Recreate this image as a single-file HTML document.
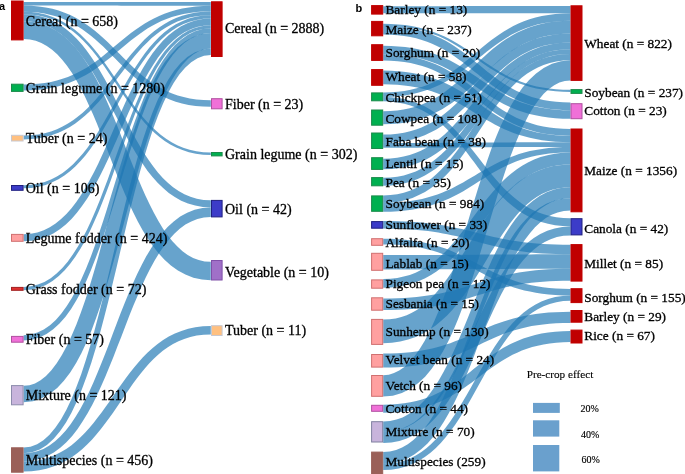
<!DOCTYPE html>
<html><head><meta charset="utf-8"><style>
html,body{margin:0;padding:0;background:#fff;width:685px;height:474px;overflow:hidden}
svg{display:block;will-change:transform}
</style></head><body>
<svg width="685" height="474" viewBox="0 0 685 474">
<g fill="rgba(31,119,180,0.68)" stroke="none">
<path d="M23.6,5.5 31.2,5.5 38.4,5.5 45.2,5.5 51.6,5.5 57.7,5.5 63.5,5.5 69.0,5.5 74.2,5.5 79.2,5.5 83.9,5.6 88.5,5.6 92.9,5.6 97.2,5.6 101.3,5.6 105.4,5.6 109.4,5.6 113.3,5.6 117.2,5.6 121.1,5.7 125.0,5.7 129.0,5.7 133.1,5.7 137.2,5.7 141.5,5.7 145.9,5.7 150.5,5.7 155.2,5.8 160.2,5.8 165.4,5.8 170.9,5.8 176.7,5.8 182.8,5.8 189.2,5.8 196.0,5.8 203.2,5.8 210.8,5.8 210.8,1.9 203.2,1.9 196.0,1.9 189.2,1.9 182.8,1.9 176.7,1.9 170.9,1.9 165.4,1.9 160.2,1.9 155.2,1.9 150.5,1.9 145.9,1.9 141.5,2.0 137.2,2.0 133.1,2.0 129.0,2.0 125.0,2.0 121.1,2.0 117.2,2.0 113.3,2.0 109.4,2.0 105.4,2.0 101.3,2.0 97.2,2.0 92.9,2.0 88.5,2.1 83.9,2.1 79.2,2.1 74.2,2.1 69.0,2.1 63.5,2.1 57.7,2.1 51.6,2.1 45.2,2.1 38.4,2.1 31.2,2.1 23.6,2.1Z"/>
<path d="M23.6,11.8 31.0,12.0 38.0,12.6 44.6,13.6 50.8,15.0 56.7,16.6 62.3,18.6 67.6,20.9 72.7,23.4 77.5,26.2 82.2,29.2 86.6,32.4 90.9,35.7 95.1,39.2 99.2,42.9 103.2,46.6 107.1,50.5 111.0,54.4 114.9,58.3 118.8,62.3 122.8,66.2 126.8,70.2 130.9,74.0 135.1,77.8 139.4,81.4 143.9,85.0 148.6,88.3 153.5,91.5 158.7,94.4 164.1,97.1 169.7,99.5 175.7,101.7 182.0,103.4 188.6,104.9 195.6,105.9 203.0,106.6 210.8,106.8 210.8,100.2 203.4,100.0 196.4,99.4 189.8,98.4 183.6,97.1 177.7,95.4 172.1,93.4 166.8,91.2 161.8,88.6 156.9,85.9 152.3,82.9 147.8,79.7 143.5,76.4 139.3,72.9 135.3,69.2 131.3,65.5 127.3,61.6 123.4,57.7 119.5,53.8 115.6,49.9 111.6,45.9 107.6,42.0 103.5,38.2 99.3,34.4 94.9,30.8 90.4,27.3 85.7,23.9 80.8,20.8 75.7,17.8 70.3,15.1 64.6,12.7 58.6,10.6 52.4,8.8 45.7,7.4 38.7,6.4 31.4,5.7 23.6,5.5Z"/>
<path d="M23.6,14.2 31.1,14.5 38.2,15.4 44.8,16.9 51.2,19.0 57.2,21.5 62.9,24.5 68.3,27.9 73.4,31.7 78.4,35.9 83.1,40.4 87.6,45.2 92.0,50.3 96.2,55.6 100.4,61.0 104.4,66.6 108.4,72.4 112.3,78.2 116.2,84.1 120.1,89.9 124.0,95.7 128.0,101.5 132.1,107.2 136.2,112.7 140.5,118.1 145.0,123.2 149.6,128.1 154.4,132.7 159.4,137.0 164.7,140.9 170.3,144.4 176.2,147.5 182.4,150.1 188.9,152.2 195.8,153.7 203.1,154.7 210.8,155.0 210.8,152.5 203.3,152.2 196.3,151.3 189.6,149.8 183.2,147.8 177.2,145.2 171.6,142.2 166.1,138.8 161.0,135.0 156.1,130.8 151.3,126.3 146.8,121.5 142.4,116.5 138.2,111.2 134.1,105.7 130.0,100.1 126.0,94.4 122.1,88.6 118.2,82.7 114.3,76.8 110.4,71.0 106.4,65.2 102.3,59.6 98.2,54.1 93.9,48.7 89.4,43.6 84.8,38.7 80.0,34.1 74.9,29.8 69.6,25.9 64.1,22.4 58.2,19.3 52.0,16.7 45.5,14.6 38.6,13.1 31.3,12.1 23.6,11.8Z"/>
<path d="M23.6,21.2 30.8,21.6 37.6,22.8 44.0,24.7 50.1,27.2 55.8,30.4 61.3,34.3 66.6,38.7 71.6,43.6 76.5,49.0 81.1,54.9 85.6,61.2 90.0,67.8 94.2,74.8 98.3,82.0 102.3,89.4 106.2,96.9 110.2,104.6 114.1,112.4 118.0,120.1 121.9,127.8 125.9,135.5 130.0,143.0 134.2,150.3 138.5,157.5 143.0,164.3 147.6,170.9 152.5,177.0 157.6,182.8 163.1,188.1 168.8,192.9 174.8,197.1 181.2,200.7 188.0,203.5 195.2,205.6 202.8,207.0 210.8,207.4 210.8,200.3 203.6,199.9 196.8,198.7 190.4,196.8 184.4,194.3 178.6,191.1 173.1,187.2 167.8,182.8 162.8,177.9 157.9,172.5 153.3,166.6 148.8,160.3 144.5,153.7 140.3,146.8 136.1,139.6 132.1,132.2 128.2,124.6 124.3,116.9 120.3,109.2 116.4,101.4 112.5,93.7 108.5,86.1 104.4,78.6 100.2,71.2 95.9,64.1 91.4,57.2 86.8,50.7 81.9,44.5 76.7,38.8 71.3,33.5 65.6,28.7 59.5,24.5 53.1,20.9 46.3,18.1 39.2,16.0 31.6,14.6 23.6,14.2Z"/>
<path d="M23.6,39.0 29.9,39.5 35.8,40.8 41.4,42.9 46.8,45.9 52.1,49.7 57.2,54.3 62.2,59.7 67.0,65.8 71.7,72.6 76.2,80.0 80.6,88.0 84.9,96.5 89.0,105.4 93.1,114.6 97.1,124.1 101.0,133.9 104.9,143.8 108.8,153.8 112.7,163.9 116.6,173.9 120.6,183.8 124.7,193.6 128.9,203.2 133.3,212.5 137.8,221.5 142.5,230.1 147.5,238.3 152.8,246.0 158.5,253.2 164.5,259.7 170.9,265.5 177.9,270.5 185.4,274.6 193.4,277.7 201.9,279.6 210.8,280.2 210.8,261.8 204.6,261.4 198.7,260.0 193.1,257.9 187.7,255.0 182.5,251.2 177.4,246.6 172.4,241.3 167.6,235.2 162.9,228.4 158.4,221.0 154.0,213.0 149.7,204.6 145.5,195.7 141.4,186.5 137.4,176.9 133.5,167.2 129.5,157.3 125.6,147.3 121.7,137.2 117.8,127.2 113.7,117.3 109.6,107.5 105.4,97.9 101.0,88.6 96.5,79.6 91.7,71.0 86.7,62.9 81.4,55.2 75.8,48.1 69.7,41.6 63.3,35.8 56.4,30.8 48.9,26.8 40.9,23.7 32.5,21.8 23.6,21.2Z"/>
<path d="M23.6,90.5 31.3,90.3 38.7,89.8 45.6,88.9 52.2,87.7 58.5,86.2 64.4,84.5 70.0,82.5 75.4,80.3 80.5,77.8 85.4,75.2 90.1,72.4 94.6,69.5 98.9,66.4 103.1,63.3 107.2,60.1 111.2,56.9 115.2,53.6 119.1,50.3 123.0,47.0 126.9,43.7 130.8,40.5 134.8,37.4 138.9,34.4 143.1,31.4 147.4,28.6 151.8,26.0 156.5,23.5 161.4,21.1 166.5,19.0 171.8,17.1 177.4,15.5 183.4,14.1 189.7,12.9 196.3,12.1 203.3,11.6 210.8,11.4 210.8,5.8 203.1,6.0 195.8,6.5 188.8,7.4 182.2,8.6 176.0,10.0 170.1,11.8 164.4,13.8 159.1,16.0 153.9,18.4 149.1,21.0 144.4,23.8 139.9,26.7 135.5,29.7 131.3,32.8 127.2,36.0 123.2,39.3 119.2,42.5 115.3,45.8 111.4,49.1 107.5,52.3 103.6,55.5 99.6,58.7 95.5,61.7 91.3,64.6 87.0,67.4 82.5,70.0 77.8,72.5 73.0,74.8 67.9,76.9 62.5,78.8 56.9,80.5 51.0,81.9 44.7,83.0 38.1,83.8 31.0,84.3 23.6,84.5Z"/>
<path d="M23.6,139.4 31.3,139.1 38.7,138.3 45.6,136.9 52.2,135.0 58.4,132.7 64.3,130.0 69.9,126.9 75.3,123.4 80.4,119.6 85.2,115.5 89.9,111.2 94.3,106.6 98.6,101.9 102.8,97.0 106.9,92.0 110.9,86.9 114.8,81.7 118.7,76.5 122.6,71.4 126.5,66.3 130.5,61.2 134.5,56.3 138.6,51.4 142.8,46.8 147.2,42.4 151.7,38.1 156.4,34.2 161.3,30.5 166.4,27.2 171.8,24.2 177.4,21.6 183.4,19.4 189.7,17.6 196.3,16.3 203.4,15.5 210.8,15.2 210.8,11.4 203.1,11.7 195.7,12.5 188.8,13.9 182.2,15.8 176.0,18.1 170.1,20.8 164.5,23.9 159.1,27.4 154.0,31.2 149.2,35.3 144.5,39.6 140.1,44.2 135.8,48.9 131.6,53.8 127.5,58.8 123.5,63.9 119.6,69.1 115.7,74.3 111.8,79.4 107.9,84.5 103.9,89.6 99.9,94.5 95.8,99.4 91.6,104.0 87.2,108.4 82.7,112.7 78.0,116.6 73.1,120.3 68.0,123.6 62.6,126.6 57.0,129.2 51.0,131.4 44.7,133.2 38.1,134.5 31.0,135.3 23.6,135.6Z"/>
<path d="M23.6,188.3 31.3,187.9 38.7,186.8 45.6,184.9 52.2,182.3 58.5,179.2 64.4,175.4 70.0,171.2 75.3,166.4 80.3,161.2 85.2,155.7 89.8,149.8 94.2,143.6 98.5,137.1 102.7,130.4 106.7,123.6 110.7,116.7 114.7,109.6 118.6,102.5 122.5,95.5 126.4,88.4 130.4,81.5 134.4,74.7 138.5,68.1 142.8,61.8 147.1,55.7 151.7,49.9 156.4,44.4 161.3,39.4 166.5,34.8 171.8,30.7 177.5,27.1 183.5,24.1 189.7,21.7 196.4,19.9 203.4,18.8 210.8,18.4 210.8,15.2 203.0,15.6 195.7,16.8 188.7,18.6 182.2,21.2 175.9,24.3 170.0,28.1 164.4,32.3 159.1,37.1 154.1,42.3 149.2,47.8 144.6,53.8 140.2,60.0 135.9,66.4 131.7,73.1 127.6,79.9 123.7,86.9 119.7,93.9 115.8,101.0 111.9,108.1 108.0,115.1 104.0,122.0 100.0,128.8 95.9,135.4 91.6,141.8 87.3,147.9 82.7,153.7 78.0,159.1 73.1,164.2 68.0,168.8 62.6,172.9 56.9,176.5 51.0,179.5 44.7,181.9 38.0,183.7 31.0,184.8 23.6,185.2Z"/>
<path d="M23.6,241.3 31.7,240.8 39.3,239.3 46.5,236.8 53.3,233.4 59.8,229.3 65.8,224.4 71.5,218.9 76.9,212.7 82.0,206.1 86.9,198.9 91.6,191.4 96.0,183.5 100.3,175.2 104.5,166.7 108.6,158.0 112.6,149.1 116.5,140.2 120.4,131.2 124.3,122.2 128.2,113.3 132.2,104.5 136.2,95.9 140.3,87.5 144.5,79.5 148.9,71.8 153.4,64.5 158.0,57.6 162.9,51.3 167.9,45.5 173.2,40.4 178.7,36.0 184.5,32.3 190.6,29.3 196.9,27.1 203.7,25.8 210.8,25.3 210.8,18.4 202.8,18.9 195.1,20.4 187.9,22.9 181.1,26.3 174.7,30.4 168.6,35.3 162.9,40.8 157.5,46.9 152.4,53.6 147.5,60.7 142.9,68.2 138.4,76.2 134.1,84.4 129.9,92.9 125.8,101.6 121.8,110.5 117.9,119.4 114.0,128.4 110.1,137.4 106.2,146.3 102.2,155.1 98.2,163.7 94.1,172.0 89.8,180.1 85.5,187.8 81.0,195.1 76.3,201.9 71.5,208.3 66.4,214.0 61.1,219.1 55.6,223.5 49.8,227.3 43.8,230.2 37.4,232.4 30.7,233.7 23.6,234.2Z"/>
<path d="M23.6,290.2 31.4,289.6 38.9,287.8 45.9,284.9 52.5,280.9 58.8,276.0 64.7,270.3 70.2,263.7 75.5,256.4 80.6,248.5 85.4,239.9 90.0,230.9 94.4,221.3 98.7,211.4 102.8,201.2 106.9,190.7 110.9,179.9 114.8,169.1 118.7,158.2 122.6,147.3 126.5,136.5 130.5,125.8 134.5,115.3 138.6,105.1 142.9,95.3 147.3,85.8 151.8,76.9 156.5,68.5 161.5,60.7 166.6,53.6 172.0,47.2 177.7,41.7 183.7,37.0 189.9,33.3 196.5,30.6 203.4,28.9 210.8,28.3 210.8,25.3 203.0,25.9 195.6,27.7 188.6,30.6 182.0,34.5 175.7,39.4 169.8,45.2 164.2,51.7 159.0,59.0 153.9,66.9 149.1,75.5 144.5,84.5 140.1,94.0 135.8,104.0 131.6,114.2 127.6,124.7 123.6,135.4 119.6,146.2 115.7,157.1 111.8,168.0 107.9,178.9 103.9,189.5 99.9,200.0 95.7,210.2 91.5,220.0 87.1,229.5 82.5,238.4 77.8,246.8 72.8,254.6 67.7,261.7 62.3,268.0 56.6,273.6 50.7,278.2 44.4,281.9 37.9,284.6 30.9,286.3 23.6,286.9Z"/>
<path d="M23.6,340.4 31.7,339.7 39.3,337.5 46.5,334.0 53.2,329.3 59.5,323.5 65.5,316.7 71.1,308.9 76.4,300.3 81.5,291.0 86.3,280.9 90.9,270.3 95.3,259.1 99.6,247.4 103.7,235.4 107.8,223.1 111.8,210.5 115.7,197.8 119.6,185.0 123.5,172.2 127.4,159.5 131.4,147.0 135.4,134.7 139.5,122.7 143.8,111.2 148.1,100.1 152.7,89.6 157.4,79.8 162.3,70.7 167.5,62.4 172.8,54.9 178.4,48.5 184.3,43.1 190.5,38.8 196.9,35.7 203.7,33.8 210.8,33.1 210.8,28.3 202.8,29.0 195.2,31.2 188.0,34.7 181.3,39.4 175.0,45.1 169.0,51.9 163.4,59.7 158.1,68.2 153.1,77.6 148.2,87.6 143.6,98.3 139.2,109.4 134.9,121.1 130.7,133.1 126.7,145.5 122.7,158.0 118.7,170.7 114.8,183.5 110.9,196.3 107.0,209.0 103.0,221.5 98.9,233.8 94.8,245.7 90.6,257.3 86.2,268.3 81.6,278.8 76.9,288.7 72.0,297.8 66.8,306.0 61.4,313.4 55.8,319.9 50.0,325.3 43.8,329.5 37.4,332.6 30.7,334.5 23.6,335.2Z"/>
<path d="M23.6,402.2 32.9,401.2 41.7,398.3 49.8,393.8 57.2,387.9 63.9,380.7 70.2,372.5 76.0,363.2 81.5,353.1 86.6,342.1 91.5,330.4 96.1,318.0 100.6,305.0 104.9,291.5 109.1,277.6 113.1,263.3 117.1,248.8 121.0,234.2 124.9,219.5 128.8,204.8 132.7,190.2 136.6,175.8 140.6,161.8 144.7,148.1 148.9,134.9 153.3,122.3 157.7,110.3 162.4,99.2 167.2,88.9 172.2,79.6 177.3,71.4 182.7,64.4 188.1,58.7 193.6,54.2 199.2,51.1 204.8,49.2 210.8,48.6 210.8,33.1 201.6,34.1 192.9,36.9 184.9,41.4 177.5,47.3 170.8,54.4 164.5,62.6 158.7,71.8 153.2,81.9 148.1,92.9 143.2,104.6 138.5,117.0 134.0,129.9 129.7,143.4 125.5,157.3 121.4,171.6 117.4,186.0 113.4,200.7 109.5,215.4 105.6,230.1 101.6,244.6 97.7,259.0 93.6,273.1 89.5,286.7 85.3,299.9 80.9,312.5 76.4,324.4 71.7,335.5 66.9,345.8 61.9,355.0 56.7,363.2 51.4,370.2 46.0,375.9 40.6,380.3 35.0,383.4 29.5,385.2 23.6,385.8Z"/>
<path d="M23.6,453.3 31.9,452.3 39.7,449.4 46.9,444.9 53.7,438.7 60.0,431.2 66.0,422.4 71.6,412.4 76.9,401.3 81.9,389.2 86.7,376.2 91.4,362.4 95.8,347.9 100.1,332.8 104.2,317.2 108.3,301.2 112.3,284.9 116.3,268.4 120.2,251.8 124.1,235.2 128.0,218.7 132.0,202.5 136.1,186.5 140.2,171.0 144.5,156.0 148.9,141.7 153.4,128.0 158.2,115.2 163.1,103.4 168.3,92.6 173.6,83.0 179.3,74.6 185.1,67.7 191.2,62.2 197.5,58.2 204.0,55.8 210.8,55.0 210.8,48.6 202.5,49.6 194.6,52.5 187.3,57.1 180.5,63.3 174.2,70.8 168.2,79.7 162.6,89.7 157.3,100.8 152.3,112.9 147.5,125.9 142.9,139.8 138.5,154.3 134.2,169.4 130.1,185.0 126.0,201.0 122.0,217.3 118.1,233.8 114.2,250.4 110.3,267.0 106.4,283.5 102.5,299.7 98.4,315.7 94.3,331.2 90.1,346.2 85.7,360.6 81.2,374.2 76.4,387.0 71.5,398.9 66.4,409.7 61.0,419.4 55.3,427.7 49.5,434.7 43.4,440.3 37.1,444.2 30.5,446.7 23.6,447.5Z"/>
<path d="M23.6,461.5 31.8,460.9 39.6,459.1 46.9,456.3 53.8,452.5 60.3,447.7 66.4,442.2 72.2,435.9 77.6,428.9 82.7,421.3 87.6,413.2 92.3,404.7 96.8,395.7 101.1,386.3 105.3,376.7 109.4,366.8 113.5,356.7 117.4,346.6 121.4,336.4 125.3,326.2 129.2,316.1 133.2,306.1 137.3,296.4 141.4,286.9 145.6,277.8 150.0,269.0 154.5,260.8 159.2,253.0 164.0,245.9 169.1,239.4 174.3,233.7 179.7,228.8 185.4,224.6 191.3,221.4 197.4,219.0 203.9,217.5 210.8,217.0 210.8,207.4 202.5,208.0 194.6,209.8 187.2,212.7 180.2,216.6 173.7,221.4 167.6,227.0 161.8,233.4 156.4,240.4 151.3,248.0 146.4,256.1 141.8,264.8 137.3,273.8 133.0,283.2 128.9,292.8 124.8,302.7 120.8,312.8 116.9,323.0 113.0,333.2 109.2,343.4 105.3,353.5 101.3,363.5 97.3,373.3 93.3,382.8 89.1,392.0 84.7,400.8 80.3,409.1 75.6,416.8 70.8,424.0 65.8,430.5 60.5,436.3 55.1,441.3 49.4,445.5 43.4,448.9 37.2,451.3 30.6,452.8 23.6,453.3Z"/>
<path d="M23.6,471.6 31.6,471.3 39.2,470.3 46.4,468.7 53.3,466.6 59.8,463.9 65.9,460.8 71.7,457.2 77.2,453.3 82.4,448.9 87.4,444.3 92.1,439.5 96.6,434.3 100.9,429.1 105.1,423.6 109.2,418.0 113.2,412.4 117.1,406.7 121.0,401.0 124.9,395.3 128.8,389.7 132.7,384.1 136.6,378.7 140.7,373.5 144.8,368.4 149.1,363.6 153.5,359.0 158.1,354.8 162.8,350.8 167.8,347.2 173.0,344.0 178.5,341.2 184.2,338.9 190.3,337.0 196.7,335.6 203.6,334.7 210.8,334.4 210.8,326.0 202.9,326.3 195.3,327.3 188.2,328.8 181.4,330.9 174.9,333.5 168.8,336.6 163.1,340.1 157.6,344.0 152.4,348.2 147.4,352.8 142.7,357.6 138.1,362.7 133.7,367.9 129.5,373.3 125.4,378.8 121.3,384.4 117.3,390.1 113.4,395.8 109.5,401.4 105.5,407.0 101.6,412.5 97.5,417.8 93.5,423.1 89.3,428.1 85.0,432.8 80.5,437.3 75.9,441.5 71.2,445.4 66.2,449.0 61.0,452.1 55.6,454.8 49.9,457.1 43.9,459.0 37.5,460.4 30.8,461.2 23.6,461.5Z"/>
<path d="M383.2,13.3 390.8,13.3 398.0,13.3 404.8,13.3 411.2,13.3 417.3,13.3 423.1,13.3 428.6,13.3 433.8,13.3 438.8,13.3 443.6,13.3 448.2,13.3 452.6,13.3 456.8,13.3 461.0,13.3 465.0,13.3 469.0,13.3 472.9,13.3 476.9,13.3 480.8,13.3 484.7,13.3 488.7,13.3 492.7,13.3 496.9,13.3 501.1,13.3 505.5,13.3 510.1,13.3 514.9,13.3 519.9,13.3 525.1,13.3 530.6,13.3 536.4,13.3 542.5,13.3 548.9,13.3 555.7,13.3 562.9,13.3 570.5,13.3 570.5,6.0 562.9,6.0 555.7,6.0 548.9,6.0 542.5,6.0 536.4,6.0 530.6,6.0 525.1,6.0 519.9,6.0 514.9,6.0 510.1,6.0 505.5,6.0 501.1,6.1 496.9,6.1 492.7,6.1 488.7,6.1 484.7,6.1 480.8,6.1 476.8,6.1 472.9,6.1 469.0,6.1 465.0,6.1 461.0,6.1 456.8,6.1 452.6,6.1 448.2,6.2 443.6,6.2 438.8,6.2 433.8,6.2 428.6,6.2 423.1,6.2 417.3,6.2 411.2,6.2 404.8,6.2 398.0,6.2 390.8,6.2 383.2,6.2Z"/>
<path d="M383.2,25.9 390.7,26.0 397.9,26.5 404.6,27.2 411.0,28.1 417.1,29.3 422.8,30.8 428.3,32.4 433.4,34.2 438.4,36.1 443.1,38.2 447.7,40.5 452.1,42.9 456.3,45.4 460.4,47.9 464.5,50.6 468.4,53.2 472.3,56.0 476.2,58.7 480.2,61.5 484.1,64.2 488.1,66.9 492.2,69.6 496.3,72.1 500.6,74.7 505.1,77.1 509.7,79.4 514.5,81.5 519.5,83.5 524.8,85.3 530.3,87.0 536.2,88.4 542.3,89.6 548.8,90.6 555.6,91.3 562.9,91.7 570.5,91.9 570.5,89.8 563.0,89.7 555.8,89.2 549.1,88.5 542.7,87.6 536.6,86.4 530.9,84.9 525.4,83.3 520.3,81.5 515.3,79.6 510.6,77.5 506.0,75.2 501.6,72.8 497.4,70.3 493.3,67.8 489.2,65.1 485.3,62.5 481.4,59.7 477.5,57.0 473.5,54.2 469.6,51.5 465.6,48.8 461.5,46.1 457.4,43.6 453.1,41.0 448.6,38.6 444.0,36.3 439.2,34.2 434.2,32.2 428.9,30.4 423.4,28.7 417.5,27.3 411.4,26.1 404.9,25.1 398.1,24.4 390.8,24.0 383.2,23.8Z"/>
<path d="M383.2,34.5 390.6,34.7 397.6,35.2 404.1,35.9 410.4,37.0 416.2,38.3 421.8,39.9 427.1,41.7 432.1,43.7 436.9,45.9 441.6,48.3 446.0,50.8 450.3,53.5 454.4,56.3 458.5,59.2 462.5,62.1 466.4,65.2 470.3,68.3 474.2,71.5 478.2,74.6 482.1,77.8 486.2,80.9 490.3,84.0 494.5,87.1 498.9,90.0 503.5,92.8 508.2,95.5 513.1,98.1 518.3,100.4 523.7,102.6 529.4,104.5 535.4,106.2 541.7,107.6 548.4,108.8 555.4,109.6 562.7,110.1 570.5,110.3 570.5,102.4 563.1,102.2 556.1,101.7 549.5,100.9 543.3,99.9 537.4,98.5 531.8,96.9 526.5,95.1 521.5,93.1 516.7,90.9 512.0,88.5 507.6,85.9 503.3,83.2 499.2,80.4 495.1,77.5 491.2,74.5 487.2,71.4 483.3,68.2 479.5,65.1 475.5,61.9 471.6,58.7 467.6,55.5 463.5,52.4 459.2,49.4 454.9,46.4 450.3,43.6 445.6,40.8 440.7,38.3 435.5,35.9 430.1,33.7 424.4,31.8 418.4,30.1 412.0,28.6 405.4,27.5 398.4,26.6 391.0,26.1 383.2,25.9Z"/>
<path d="M383.2,54.3 390.6,54.4 397.6,54.9 404.2,55.5 410.5,56.5 416.4,57.6 422.0,58.9 427.3,60.5 432.4,62.2 437.2,64.1 441.8,66.1 446.2,68.2 450.5,70.5 454.7,72.9 458.7,75.3 462.7,77.9 466.6,80.5 470.5,83.1 474.4,85.8 478.4,88.5 482.3,91.2 486.3,93.8 490.5,96.5 494.7,99.1 499.1,101.6 503.6,104.0 508.3,106.2 513.3,108.4 518.4,110.4 523.8,112.2 529.5,113.9 535.5,115.3 541.8,116.5 548.4,117.5 555.4,118.2 562.7,118.7 570.5,118.8 570.5,110.3 563.1,110.2 556.1,109.7 549.5,109.1 543.2,108.1 537.3,107.0 531.7,105.7 526.4,104.1 521.3,102.4 516.5,100.5 511.9,98.5 507.5,96.4 503.2,94.1 499.0,91.7 495.0,89.3 491.0,86.7 487.1,84.1 483.2,81.5 479.3,78.8 475.3,76.1 471.4,73.4 467.4,70.8 463.2,68.1 459.0,65.5 454.6,63.0 450.1,60.6 445.4,58.4 440.4,56.2 435.3,54.2 429.9,52.4 424.2,50.7 418.2,49.3 411.9,48.1 405.3,47.1 398.3,46.4 391.0,45.9 383.2,45.8Z"/>
<path d="M383.2,60.6 390.6,60.8 397.7,61.3 404.3,62.0 410.6,63.1 416.5,64.5 422.2,66.0 427.5,67.8 432.6,69.8 437.4,72.0 442.1,74.4 446.5,76.9 450.8,79.6 455.0,82.4 459.1,85.3 463.1,88.2 467.0,91.3 470.9,94.4 474.8,97.5 478.7,100.6 482.7,103.7 486.7,106.8 490.8,109.9 495.0,112.9 499.3,115.8 503.8,118.6 508.5,121.2 513.4,123.7 518.6,126.0 524.0,128.2 529.6,130.1 535.6,131.7 541.8,133.2 548.4,134.3 555.4,135.1 562.8,135.6 570.5,135.8 570.5,129.0 563.1,128.8 556.0,128.3 549.4,127.6 543.2,126.5 537.2,125.2 531.6,123.6 526.3,121.8 521.2,119.8 516.4,117.7 511.7,115.3 507.2,112.8 502.9,110.2 498.7,107.4 494.7,104.5 490.7,101.6 486.7,98.5 482.8,95.5 478.9,92.4 475.0,89.3 471.0,86.1 467.0,83.1 462.9,80.0 458.7,77.1 454.3,74.2 449.8,71.4 445.1,68.8 440.2,66.3 435.1,64.0 429.7,61.9 424.0,60.0 418.1,58.3 411.8,56.9 405.2,55.8 398.3,55.0 390.9,54.5 383.2,54.3Z"/>
<path d="M383.2,84.3 390.5,84.4 397.4,84.8 404.0,85.4 410.1,86.2 416.0,87.2 421.5,88.4 426.7,89.7 431.7,91.3 436.5,92.9 441.1,94.7 445.5,96.6 449.8,98.6 454.0,100.8 458.1,103.0 462.1,105.3 466.1,107.6 470.1,110.0 474.1,112.4 478.1,114.9 482.1,117.3 486.3,119.7 490.5,122.1 494.8,124.5 499.2,126.7 503.8,128.9 508.6,130.9 513.5,132.9 518.7,134.7 524.1,136.3 529.8,137.8 535.7,139.1 542.0,140.2 548.5,141.0 555.5,141.7 562.8,142.1 570.5,142.2 570.5,135.8 563.0,135.7 556.0,135.2 549.3,134.5 543.0,133.6 537.1,132.4 531.5,131.1 526.1,129.5 521.1,127.8 516.3,125.9 511.7,123.8 507.3,121.7 503.1,119.4 499.0,117.0 495.0,114.5 491.1,112.0 487.2,109.4 483.4,106.7 479.6,104.0 475.8,101.3 471.9,98.6 467.9,96.0 463.9,93.3 459.7,90.7 455.3,88.2 450.8,85.7 446.1,83.4 441.1,81.2 435.9,79.2 430.4,77.3 424.7,75.6 418.7,74.2 412.3,72.9 405.6,71.9 398.5,71.2 391.0,70.8 383.2,70.6Z"/>
<path d="M383.2,96.9 390.9,96.7 398.2,96.2 405.1,95.4 411.7,94.2 417.9,92.8 423.8,91.1 429.4,89.2 434.8,87.1 439.9,84.7 444.8,82.2 449.5,79.5 454.0,76.7 458.4,73.8 462.6,70.7 466.8,67.6 470.8,64.5 474.8,61.3 478.7,58.1 482.7,54.9 486.6,51.8 490.6,48.7 494.6,45.7 498.8,42.7 503.0,39.9 507.3,37.2 511.8,34.6 516.4,32.2 521.3,30.0 526.4,28.0 531.7,26.2 537.3,24.6 543.2,23.2 549.5,22.2 556.1,21.4 563.1,20.9 570.5,20.7 570.5,13.3 562.7,13.5 555.4,14.0 548.4,14.9 541.8,16.1 535.5,17.6 529.5,19.3 523.9,21.3 518.5,23.6 513.3,26.0 508.5,28.7 503.8,31.4 499.3,34.4 495.0,37.4 490.8,40.5 486.7,43.7 482.7,47.0 478.8,50.3 475.0,53.5 471.1,56.8 467.2,60.0 463.3,63.2 459.3,66.4 455.3,69.4 451.1,72.3 446.8,75.1 442.4,77.8 437.7,80.3 432.8,82.6 427.7,84.7 422.4,86.7 416.7,88.3 410.7,89.7 404.4,90.9 397.8,91.7 390.7,92.2 383.2,92.4Z"/>
<path d="M383.2,101.3 390.6,101.6 397.6,102.4 404.3,103.7 410.5,105.5 416.4,107.7 422.0,110.3 427.4,113.3 432.4,116.7 437.3,120.3 441.9,124.3 446.3,128.5 450.6,132.9 454.8,137.5 458.8,142.3 462.8,147.3 466.7,152.3 470.5,157.4 474.4,162.6 478.2,167.8 482.1,173.0 486.0,178.1 490.1,183.1 494.2,188.1 498.5,192.9 503.0,197.5 507.7,201.9 512.6,206.0 517.7,209.9 523.1,213.5 528.8,216.7 534.9,219.5 541.3,221.9 548.0,223.8 555.1,225.2 562.6,226.1 570.5,226.4 570.5,218.3 563.2,218.0 556.3,217.3 549.9,216.0 543.7,214.3 537.9,212.2 532.4,209.7 527.1,206.9 522.1,203.7 517.2,200.1 512.6,196.3 508.1,192.3 503.7,187.9 499.5,183.4 495.3,178.7 491.3,173.9 487.3,168.9 483.3,163.9 479.3,158.8 475.4,153.7 471.4,148.7 467.3,143.6 463.1,138.7 458.9,133.9 454.5,129.2 450.0,124.7 445.3,120.4 440.3,116.4 435.2,112.7 429.8,109.2 424.1,106.1 418.2,103.4 411.9,101.2 405.3,99.3 398.3,98.0 391.0,97.2 383.2,96.9Z"/>
<path d="M383.2,124.3 391.2,124.1 398.7,123.4 405.9,122.4 412.7,121.0 419.2,119.3 425.4,117.2 431.2,114.8 436.8,112.1 442.1,109.2 447.1,106.1 451.9,102.9 456.6,99.4 461.0,95.9 465.3,92.2 469.4,88.5 473.5,84.7 477.5,80.9 481.4,77.1 485.3,73.4 489.1,69.7 493.0,66.0 497.0,62.5 501.0,59.0 505.1,55.8 509.3,52.6 513.6,49.7 518.1,46.9 522.8,44.3 527.7,42.0 532.9,39.9 538.3,38.1 544.0,36.5 550.0,35.3 556.5,34.4 563.3,33.8 570.5,33.6 570.5,20.7 562.6,20.9 555.0,21.5 547.8,22.6 541.0,24.0 534.5,25.7 528.4,27.8 522.5,30.2 516.9,32.8 511.6,35.7 506.6,38.8 501.8,42.1 497.2,45.5 492.7,49.1 488.4,52.7 484.3,56.4 480.2,60.2 476.3,64.0 472.3,67.8 468.4,71.5 464.5,75.2 460.6,78.9 456.7,82.4 452.7,85.8 448.6,89.1 444.4,92.2 440.0,95.2 435.5,97.9 430.8,100.5 425.9,102.8 420.8,104.9 415.4,106.7 409.7,108.3 403.6,109.5 397.2,110.4 390.4,111.0 383.2,111.2Z"/>
<path d="M383.2,143.0 391.0,142.8 398.5,142.1 405.6,140.9 412.3,139.4 418.7,137.5 424.7,135.2 430.4,132.6 435.9,129.8 441.1,126.6 446.1,123.2 450.8,119.7 455.4,115.9 459.7,112.0 464.0,108.0 468.1,103.9 472.1,99.8 476.1,95.6 480.0,91.4 483.9,87.2 487.8,83.1 491.8,79.0 495.8,75.0 499.8,71.2 504.0,67.5 508.3,64.0 512.7,60.6 517.3,57.5 522.1,54.6 527.1,52.0 532.3,49.6 537.8,47.5 543.6,45.8 549.8,44.4 556.3,43.4 563.2,42.7 570.5,42.5 570.5,33.6 562.6,33.8 555.2,34.5 548.1,35.7 541.4,37.2 535.0,39.1 528.9,41.4 523.2,44.0 517.7,46.9 512.5,50.1 507.5,53.5 502.8,57.1 498.3,60.8 493.9,64.8 489.7,68.8 485.6,72.9 481.5,77.1 477.6,81.3 473.7,85.5 469.8,89.7 465.9,93.8 462.0,97.9 458.0,101.9 453.9,105.7 449.8,109.4 445.5,113.0 441.1,116.4 436.5,119.5 431.7,122.4 426.7,125.1 421.5,127.4 416.0,129.5 410.1,131.3 404.0,132.7 397.4,133.7 390.5,134.4 383.2,134.6Z"/>
<path d="M383.2,147.7 390.8,147.7 398.0,147.7 404.8,147.7 411.2,147.7 417.3,147.7 423.1,147.6 428.6,147.6 433.8,147.6 438.8,147.6 443.6,147.5 448.2,147.5 452.6,147.5 456.9,147.5 461.0,147.4 465.1,147.4 469.0,147.4 473.0,147.3 476.9,147.3 480.8,147.3 484.7,147.2 488.7,147.2 492.7,147.2 496.9,147.1 501.1,147.1 505.6,147.1 510.1,147.1 514.9,147.0 519.9,147.0 525.1,147.0 530.6,147.0 536.4,146.9 542.5,146.9 548.9,146.9 555.7,146.9 562.9,146.9 570.5,146.9 570.5,142.2 562.9,142.2 555.7,142.2 548.9,142.2 542.5,142.2 536.4,142.2 530.6,142.3 525.1,142.3 519.9,142.3 514.9,142.3 510.1,142.4 505.5,142.4 501.1,142.4 496.8,142.4 492.7,142.5 488.6,142.5 484.7,142.5 480.7,142.6 476.8,142.6 472.9,142.6 469.0,142.7 465.0,142.7 461.0,142.7 456.8,142.8 452.6,142.8 448.1,142.8 443.6,142.8 438.8,142.9 433.8,142.9 428.6,142.9 423.1,142.9 417.3,143.0 411.2,143.0 404.8,143.0 398.0,143.0 390.8,143.0 383.2,143.0Z"/>
<path d="M383.2,169.3 391.2,169.0 398.7,168.2 405.9,166.8 412.7,164.9 419.2,162.6 425.3,159.9 431.1,156.8 436.6,153.3 441.8,149.5 446.7,145.5 451.4,141.2 456.0,136.8 460.3,132.1 464.5,127.4 468.5,122.5 472.5,117.6 476.4,112.6 480.2,107.6 484.1,102.7 487.9,97.8 491.8,92.9 495.7,88.2 499.7,83.6 503.9,79.2 508.1,75.0 512.5,71.0 517.1,67.2 521.9,63.8 526.9,60.6 532.1,57.7 537.7,55.3 543.5,53.2 549.7,51.5 556.2,50.2 563.1,49.5 570.5,49.2 570.5,42.5 562.7,42.8 555.2,43.6 548.2,44.9 541.5,46.6 535.1,48.9 529.1,51.5 523.4,54.5 517.9,57.8 512.7,61.4 507.7,65.3 503.0,69.5 498.4,73.8 494.0,78.3 489.7,82.9 485.5,87.7 481.5,92.5 477.5,97.4 473.5,102.3 469.5,107.1 465.6,111.9 461.6,116.7 457.5,121.3 453.4,125.8 449.2,130.1 444.9,134.2 440.4,138.0 435.8,141.6 431.0,145.0 426.1,148.0 420.9,150.7 415.4,153.1 409.7,155.0 403.6,156.6 397.2,157.8 390.4,158.5 383.2,158.8Z"/>
<path d="M383.2,185.7 391.1,185.4 398.6,184.5 405.7,183.0 412.5,181.0 418.9,178.5 424.9,175.5 430.6,172.1 436.0,168.4 441.2,164.3 446.1,159.9 450.7,155.2 455.2,150.4 459.5,145.3 463.7,140.1 467.7,134.8 471.7,129.4 475.6,124.0 479.4,118.5 483.3,113.1 487.1,107.7 491.0,102.4 495.0,97.2 499.1,92.1 503.2,87.2 507.5,82.5 512.0,78.1 516.6,74.0 521.4,70.1 526.5,66.6 531.8,63.5 537.4,60.7 543.3,58.4 549.5,56.5 556.1,55.1 563.1,54.3 570.5,54.0 570.5,49.2 562.7,49.5 555.3,50.4 548.3,51.8 541.7,53.7 535.4,56.2 529.4,59.0 523.7,62.3 518.3,65.9 513.2,69.9 508.3,74.2 503.6,78.7 499.0,83.5 494.7,88.4 490.4,93.5 486.3,98.8 482.2,104.1 478.2,109.4 474.3,114.8 470.3,120.2 466.4,125.5 462.4,130.8 458.3,135.9 454.2,140.8 449.9,145.6 445.6,150.2 441.1,154.5 436.4,158.6 431.6,162.3 426.6,165.7 421.3,168.7 415.8,171.4 409.9,173.6 403.8,175.4 397.3,176.7 390.5,177.5 383.2,177.8Z"/>
<path d="M383.2,203.0 391.1,202.7 398.6,201.7 405.8,200.1 412.5,197.9 418.9,195.1 425.0,191.9 430.7,188.2 436.1,184.2 441.3,179.7 446.2,175.0 450.9,170.0 455.4,164.7 459.7,159.2 463.9,153.6 468.0,147.8 471.9,141.9 475.9,136.0 479.8,130.1 483.6,124.2 487.5,118.3 491.4,112.5 495.4,106.9 499.5,101.4 503.7,96.1 508.0,91.0 512.5,86.2 517.1,81.8 521.9,77.6 526.9,73.8 532.2,70.4 537.8,67.5 543.6,65.0 549.8,63.0 556.3,61.5 563.2,60.6 570.5,60.3 570.5,54.0 562.6,54.3 555.2,55.3 548.1,56.9 541.4,59.0 535.0,61.7 529.0,64.9 523.3,68.5 517.9,72.6 512.7,76.9 507.8,81.6 503.1,86.6 498.6,91.9 494.2,97.3 490.0,102.9 485.9,108.6 481.9,114.5 477.9,120.4 473.9,126.3 470.0,132.2 466.1,138.0 462.1,143.7 458.1,149.4 454.0,154.8 449.8,160.1 445.4,165.1 441.0,169.8 436.3,174.3 431.5,178.4 426.5,182.1 421.2,185.4 415.7,188.3 409.9,190.8 403.8,192.8 397.3,194.2 390.5,195.1 383.2,195.4Z"/>
<path d="M383.2,211.8 390.9,211.7 398.3,211.3 405.3,210.6 411.9,209.7 418.1,208.6 424.1,207.3 429.7,205.8 435.1,204.1 440.2,202.3 445.1,200.3 449.8,198.2 454.3,196.0 458.7,193.7 462.9,191.4 466.9,189.0 470.9,186.5 474.9,184.1 478.7,181.6 482.6,179.2 486.5,176.7 490.4,174.3 494.3,172.0 498.4,169.7 502.6,167.5 506.8,165.4 511.3,163.5 516.0,161.6 520.8,159.8 525.9,158.2 531.3,156.8 536.9,155.6 542.9,154.5 549.2,153.6 555.9,153.0 563.0,152.6 570.5,152.5 570.5,146.9 562.8,147.0 555.5,147.4 548.6,148.0 542.1,148.9 535.8,149.9 529.9,151.1 524.3,152.5 519.0,154.1 513.8,155.9 508.9,157.7 504.2,159.7 499.7,161.8 495.3,163.9 491.1,166.2 487.0,168.5 482.9,170.8 478.9,173.1 475.0,175.5 471.0,177.8 467.1,180.1 463.1,182.4 459.1,184.6 455.0,186.8 450.8,188.9 446.5,190.8 442.0,192.7 437.4,194.5 432.5,196.1 427.4,197.6 422.1,199.0 416.5,200.1 410.6,201.1 404.3,201.9 397.7,202.5 390.6,202.9 383.2,203.0Z"/>
<path d="M383.2,228.6 390.7,228.7 397.9,228.8 404.6,229.1 411.0,229.5 417.0,229.9 422.7,230.5 428.1,231.1 433.3,231.8 438.2,232.6 442.9,233.4 447.4,234.3 451.7,235.2 455.9,236.1 460.0,237.1 464.0,238.1 468.0,239.2 471.9,240.2 475.8,241.3 479.7,242.4 483.6,243.4 487.6,244.5 491.7,245.5 495.9,246.6 500.2,247.5 504.7,248.5 509.3,249.4 514.2,250.2 519.2,251.0 524.6,251.7 530.1,252.4 536.0,252.9 542.2,253.4 548.7,253.8 555.6,254.1 562.8,254.2 570.5,254.3 570.5,244.8 563.0,244.7 555.9,244.6 549.2,244.3 542.8,244.0 536.8,243.6 531.1,243.1 525.7,242.5 520.5,241.8 515.6,241.1 510.9,240.4 506.4,239.6 502.1,238.7 497.8,237.8 493.7,236.9 489.7,236.0 485.8,235.0 481.9,234.0 477.9,233.0 474.0,232.0 470.1,231.1 466.0,230.1 461.9,229.1 457.7,228.2 453.4,227.3 448.9,226.4 444.3,225.5 439.4,224.8 434.4,224.0 429.0,223.4 423.5,222.8 417.6,222.3 411.5,221.8 405.0,221.5 398.1,221.2 390.8,221.1 383.2,221.0Z"/>
<path d="M383.2,244.4 390.7,244.5 397.8,244.8 404.5,245.4 410.8,246.1 416.8,247.0 422.5,248.1 427.9,249.4 433.0,250.7 437.9,252.2 442.6,253.9 447.1,255.6 451.4,257.4 455.6,259.3 459.7,261.3 463.7,263.3 467.6,265.4 471.5,267.5 475.4,269.6 479.3,271.7 483.2,273.8 487.2,275.9 491.3,278.0 495.5,280.0 499.9,282.0 504.4,283.9 509.0,285.7 513.9,287.4 519.0,288.9 524.3,290.4 529.9,291.6 535.8,292.8 542.1,293.7 548.6,294.5 555.5,295.0 562.8,295.4 570.5,295.5 570.5,288.9 563.0,288.8 555.9,288.5 549.2,287.9 542.9,287.2 536.9,286.3 531.3,285.2 525.9,284.0 520.8,282.7 515.9,281.2 511.2,279.6 506.7,277.9 502.4,276.1 498.2,274.3 494.1,272.4 490.1,270.4 486.1,268.3 482.2,266.3 478.3,264.2 474.4,262.1 470.4,260.0 466.4,257.9 462.3,255.9 458.1,253.9 453.7,252.0 449.3,250.1 444.6,248.3 439.7,246.7 434.6,245.1 429.3,243.7 423.7,242.5 417.8,241.4 411.6,240.4 405.0,239.7 398.2,239.2 390.9,238.8 383.2,238.7Z"/>
<path d="M383.2,269.4 390.8,269.4 398.0,269.4 404.8,269.4 411.2,269.4 417.3,269.4 423.1,269.3 428.6,269.3 433.8,269.3 438.8,269.3 443.6,269.3 448.2,269.2 452.6,269.2 456.9,269.2 461.0,269.2 465.1,269.1 469.1,269.1 473.0,269.1 476.9,269.0 480.8,269.0 484.7,269.0 488.7,269.0 492.8,268.9 496.9,268.9 501.2,268.9 505.6,268.9 510.2,268.8 514.9,268.8 519.9,268.8 525.1,268.8 530.6,268.8 536.4,268.7 542.5,268.7 548.9,268.7 555.7,268.7 562.9,268.7 570.5,268.7 570.5,254.3 562.9,254.3 555.7,254.3 548.9,254.3 542.5,254.3 536.4,254.3 530.6,254.4 525.1,254.4 519.9,254.4 514.9,254.4 510.1,254.4 505.5,254.5 501.1,254.5 496.8,254.5 492.7,254.5 488.6,254.6 484.6,254.6 480.7,254.6 476.8,254.7 472.9,254.7 469.0,254.7 465.0,254.7 460.9,254.8 456.8,254.8 452.5,254.8 448.1,254.8 443.5,254.9 438.8,254.9 433.8,254.9 428.6,254.9 423.1,254.9 417.3,255.0 411.2,255.0 404.8,255.0 398.0,255.0 390.8,255.0 383.2,255.0Z"/>
<path d="M383.2,287.8 391.1,287.5 398.7,286.6 405.8,285.3 412.6,283.3 419.0,281.0 425.2,278.2 431.0,275.0 436.5,271.4 441.7,267.5 446.7,263.3 451.5,258.9 456.1,254.3 460.5,249.5 464.8,244.6 469.0,239.5 473.0,234.4 477.0,229.2 481.0,224.1 485.0,218.9 488.9,213.8 492.9,208.8 496.9,204.0 501.0,199.2 505.2,194.7 509.5,190.4 513.9,186.3 518.5,182.5 523.2,179.0 528.2,175.8 533.3,173.0 538.7,170.5 544.3,168.4 550.3,166.8 556.7,165.5 563.4,164.8 570.5,164.5 570.5,152.5 562.5,152.8 554.8,153.7 547.5,155.2 540.6,157.1 534.1,159.6 527.9,162.5 522.1,165.8 516.5,169.5 511.3,173.5 506.3,177.8 501.6,182.3 497.1,187.1 492.7,192.0 488.5,197.0 484.4,202.1 480.5,207.3 476.6,212.6 472.7,217.8 468.8,223.1 465.0,228.2 461.1,233.3 457.2,238.3 453.2,243.1 449.1,247.7 444.8,252.2 440.4,256.3 435.9,260.3 431.2,263.9 426.2,267.2 421.0,270.1 415.6,272.7 409.8,274.9 403.7,276.6 397.3,277.9 390.5,278.7 383.2,279.0Z"/>
<path d="M383.2,310.0 390.9,309.9 398.2,309.7 405.1,309.4 411.7,309.0 417.9,308.4 423.8,307.8 429.4,307.0 434.8,306.2 439.9,305.3 444.8,304.3 449.5,303.3 454.0,302.2 458.4,301.1 462.6,299.9 466.7,298.7 470.7,297.5 474.7,296.3 478.6,295.1 482.5,293.9 486.4,292.7 490.4,291.5 494.3,290.3 498.4,289.2 502.6,288.1 506.9,287.1 511.4,286.1 516.0,285.2 520.9,284.3 526.0,283.5 531.3,282.8 537.0,282.2 543.0,281.7 549.3,281.3 555.9,281.0 563.0,280.8 570.5,280.7 570.5,268.7 562.8,268.8 555.5,269.0 548.6,269.3 542.0,269.7 535.8,270.3 529.9,271.0 524.3,271.7 518.9,272.5 513.8,273.5 508.9,274.4 504.2,275.5 499.7,276.6 495.3,277.8 491.1,278.9 487.0,280.2 483.0,281.4 479.0,282.6 475.1,283.9 471.2,285.1 467.3,286.3 463.4,287.5 459.4,288.7 455.3,289.9 451.1,291.0 446.8,292.0 442.4,293.0 437.7,293.9 432.9,294.8 427.8,295.6 422.4,296.3 416.7,297.0 410.8,297.5 404.4,297.9 397.8,298.2 390.7,298.4 383.2,298.5Z"/>
<path d="M383.2,343.2 391.9,342.8 400.2,341.6 408.2,339.6 415.7,337.0 422.8,333.7 429.4,329.8 435.7,325.4 441.6,320.6 447.1,315.4 452.3,309.9 457.2,304.1 461.9,298.1 466.4,291.9 470.7,285.6 474.8,279.1 478.9,272.6 482.9,266.1 486.8,259.6 490.6,253.1 494.5,246.8 498.4,240.5 502.3,234.5 506.3,228.7 510.3,223.1 514.4,217.8 518.6,212.8 523.0,208.2 527.4,204.1 532.0,200.3 536.7,197.0 541.7,194.1 546.8,191.7 552.2,189.8 557.9,188.4 564.0,187.5 570.5,187.2 570.5,164.5 561.8,164.9 553.6,166.1 545.7,168.0 538.2,170.7 531.1,173.9 524.5,177.8 518.2,182.1 512.4,186.9 506.8,192.1 501.6,197.5 496.7,203.3 492.0,209.3 487.5,215.4 483.1,221.8 478.9,228.2 474.9,234.7 470.9,241.2 466.9,247.7 463.0,254.1 459.1,260.4 455.2,266.6 451.3,272.7 447.3,278.5 443.2,284.0 439.1,289.3 434.9,294.2 430.5,298.8 426.1,302.9 421.5,306.7 416.8,310.0 411.9,312.8 406.7,315.2 401.4,317.0 395.7,318.4 389.7,319.3 383.2,319.6Z"/>
<path d="M383.2,367.6 391.0,367.5 398.4,367.2 405.3,366.7 412.0,366.0 418.3,365.2 424.3,364.2 430.0,363.0 435.4,361.8 440.6,360.4 445.6,358.9 450.3,357.3 454.9,355.6 459.3,353.9 463.5,352.1 467.6,350.2 471.6,348.4 475.6,346.5 479.5,344.7 483.3,342.8 487.2,341.0 491.1,339.2 495.0,337.5 499.1,335.8 503.2,334.1 507.4,332.6 511.8,331.1 516.4,329.7 521.2,328.4 526.3,327.2 531.6,326.1 537.2,325.2 543.1,324.4 549.4,323.8 556.0,323.3 563.1,323.0 570.5,322.9 570.5,311.8 562.8,311.9 555.4,312.2 548.5,312.6 541.9,313.3 535.6,314.1 529.6,315.0 523.9,316.0 518.5,317.2 513.4,318.5 508.4,319.9 503.6,321.4 499.1,323.0 494.7,324.6 490.4,326.3 486.2,328.0 482.2,329.8 478.2,331.5 474.2,333.3 470.3,335.0 466.4,336.7 462.5,338.4 458.5,340.1 454.4,341.6 450.3,343.2 446.0,344.6 441.6,346.0 437.0,347.3 432.2,348.5 427.2,349.6 421.9,350.6 416.3,351.5 410.4,352.2 404.2,352.8 397.6,353.2 390.6,353.5 383.2,353.6Z"/>
<path d="M383.2,396.6 392.8,395.7 401.9,393.0 410.3,388.8 418.0,383.3 425.1,376.7 431.5,369.0 437.5,360.5 443.1,351.3 448.3,341.3 453.2,330.7 457.9,319.5 462.4,307.8 466.8,295.6 470.9,283.1 475.0,270.3 479.0,257.3 482.9,244.2 486.8,231.1 490.7,218.0 494.6,204.9 498.5,192.1 502.5,179.6 506.5,167.4 510.7,155.7 515.0,144.5 519.4,134.0 524.0,124.2 528.7,115.1 533.6,107.0 538.6,99.9 543.7,93.8 548.9,88.9 554.2,85.2 559.4,82.5 564.8,80.9 570.5,80.4 570.5,60.3 561.0,61.2 552.0,63.8 543.7,68.0 536.1,73.4 529.1,80.0 522.6,87.6 516.6,96.0 511.1,105.2 505.8,115.2 500.8,125.7 496.1,136.9 491.5,148.6 487.2,160.7 483.0,173.2 478.8,186.0 474.8,198.9 470.8,212.0 466.9,225.2 463.0,238.3 459.0,251.3 455.1,264.1 451.0,276.6 446.9,288.7 442.7,300.4 438.4,311.6 433.9,322.1 429.3,331.9 424.6,340.9 419.7,348.9 414.7,356.0 409.5,362.0 404.4,366.9 399.2,370.6 394.0,373.1 388.8,374.7 383.2,375.2Z"/>
<path d="M383.2,412.8 391.0,412.6 398.3,412.2 405.3,411.4 412.0,410.3 418.3,409.0 424.3,407.4 430.0,405.6 435.4,403.6 440.6,401.4 445.6,399.0 450.3,396.5 454.9,393.8 459.3,391.1 463.6,388.2 467.8,385.3 471.8,382.4 475.8,379.4 479.8,376.5 483.7,373.5 487.6,370.6 491.6,367.7 495.6,365.0 499.7,362.3 503.8,359.7 508.1,357.2 512.5,354.8 517.1,352.7 521.9,350.6 526.9,348.8 532.2,347.1 537.7,345.7 543.5,344.4 549.7,343.4 556.2,342.7 563.2,342.3 570.5,342.1 570.5,331.0 562.7,331.2 555.2,331.7 548.2,332.5 541.5,333.6 535.1,335.0 529.1,336.7 523.3,338.6 517.9,340.7 512.7,343.0 507.7,345.5 503.0,348.1 498.4,350.9 494.0,353.7 489.8,356.7 485.7,359.7 481.7,362.7 477.8,365.8 473.9,368.8 470.1,371.9 466.2,374.9 462.3,377.9 458.4,380.8 454.4,383.6 450.2,386.3 446.0,388.8 441.6,391.3 437.0,393.6 432.2,395.7 427.2,397.7 421.9,399.4 416.3,400.9 410.4,402.2 404.2,403.3 397.6,404.1 390.6,404.5 383.2,404.7Z"/>
<path d="M383.2,432.0 391.5,431.4 399.5,429.7 406.9,426.9 414.0,423.2 420.6,418.6 426.7,413.2 432.5,407.1 438.0,400.4 443.2,393.1 448.1,385.3 452.8,377.1 457.3,368.4 461.7,359.5 465.9,350.2 470.0,340.8 474.0,331.2 477.9,321.5 481.8,311.7 485.8,302.0 489.7,292.3 493.6,282.8 497.7,273.5 501.8,264.5 506.0,255.8 510.3,247.5 514.8,239.6 519.4,232.3 524.2,225.5 529.2,219.4 534.4,214.0 539.8,209.3 545.4,205.4 551.2,202.3 557.3,200.1 563.7,198.7 570.5,198.2 570.5,187.2 562.1,187.8 554.2,189.5 546.7,192.3 539.6,196.0 533.0,200.7 526.8,206.1 521.0,212.2 515.5,218.9 510.4,226.2 505.4,234.0 500.8,242.3 496.3,250.9 491.9,259.9 487.8,269.2 483.7,278.6 479.7,288.3 475.8,298.0 471.9,307.7 468.0,317.5 464.1,327.1 460.1,336.6 456.1,345.9 452.0,355.0 447.8,363.7 443.5,372.0 439.0,379.9 434.4,387.2 429.6,394.0 424.6,400.2 419.4,405.6 414.1,410.3 408.4,414.2 402.6,417.4 396.5,419.6 390.0,421.0 383.2,421.5Z"/>
<path d="M383.2,443.1 391.5,442.6 399.4,441.1 406.8,438.6 413.8,435.3 420.4,431.2 426.6,426.4 432.4,421.0 437.9,415.0 443.1,408.5 448.0,401.6 452.7,394.2 457.2,386.6 461.5,378.6 465.6,370.4 469.7,362.0 473.7,353.5 477.6,344.9 481.4,336.3 485.3,327.7 489.2,319.2 493.1,310.7 497.1,302.5 501.1,294.5 505.3,286.8 509.6,279.5 514.0,272.5 518.6,266.0 523.4,260.0 528.4,254.5 533.6,249.7 539.0,245.5 544.7,242.0 550.6,239.2 556.9,237.1 563.5,235.8 570.5,235.4 570.5,226.4 562.3,226.9 554.6,228.4 547.3,230.8 540.3,234.0 533.8,238.0 527.6,242.7 521.9,248.1 516.4,254.0 511.2,260.4 506.2,267.2 501.5,274.5 497.0,282.1 492.6,290.0 488.4,298.2 484.3,306.5 480.2,315.0 476.2,323.6 472.3,332.2 468.3,340.7 464.4,349.2 460.4,357.6 456.3,365.8 452.2,373.7 448.0,381.4 443.6,388.7 439.1,395.6 434.5,402.0 429.7,407.9 424.7,413.3 419.5,418.1 414.2,422.2 408.6,425.6 402.7,428.3 396.6,430.3 390.1,431.6 383.2,432.0Z"/>
<path d="M383.2,464.0 391.7,463.4 399.8,461.5 407.4,458.4 414.6,454.3 421.2,449.2 427.5,443.4 433.3,436.7 438.8,429.4 444.0,421.5 448.9,413.0 453.6,404.1 458.1,394.7 462.4,385.0 466.6,375.0 470.7,364.7 474.7,354.3 478.6,343.8 482.5,333.2 486.5,322.7 490.4,312.2 494.3,301.9 498.3,291.8 502.5,282.0 506.7,272.6 511.0,263.6 515.5,255.1 520.1,247.1 524.9,239.8 529.9,233.2 535.0,227.3 540.4,222.3 545.9,218.1 551.6,214.8 557.6,212.4 563.8,210.9 570.5,210.4 570.5,198.2 562.0,198.8 553.9,200.7 546.3,203.8 539.1,207.9 532.4,213.0 526.2,218.9 520.4,225.5 514.9,232.8 509.7,240.7 504.8,249.2 500.1,258.1 495.6,267.5 491.3,277.2 487.1,287.2 483.0,297.5 479.0,307.9 475.1,318.5 471.2,329.0 467.3,339.6 463.3,350.0 459.4,360.3 455.4,370.4 451.3,380.2 447.1,389.6 442.7,398.7 438.3,407.2 433.6,415.1 428.9,422.5 423.9,429.1 418.7,435.0 413.4,440.0 407.8,444.2 402.1,447.5 396.1,449.9 389.9,451.4 383.2,451.9Z"/>
<path d="M383.2,470.1 391.1,469.7 398.6,468.5 405.7,466.6 412.4,464.0 418.8,460.8 424.8,457.0 430.5,452.7 435.9,447.9 441.0,442.7 445.9,437.1 450.5,431.1 455.0,424.9 459.3,418.5 463.5,411.8 467.5,405.0 471.5,398.0 475.4,391.0 479.3,383.9 483.2,376.9 487.1,369.9 491.1,363.1 495.1,356.3 499.2,349.8 503.4,343.4 507.7,337.4 512.2,331.7 516.9,326.3 521.7,321.3 526.8,316.8 532.1,312.8 537.7,309.3 543.6,306.3 549.7,303.9 556.3,302.2 563.2,301.1 570.5,300.7 570.5,295.5 562.6,295.9 555.2,297.1 548.1,298.9 541.4,301.5 535.1,304.7 529.1,308.5 523.4,312.7 518.1,317.5 512.9,322.7 508.1,328.3 503.4,334.2 498.9,340.4 494.6,346.8 490.4,353.4 486.3,360.3 482.3,367.2 478.3,374.2 474.4,381.2 470.5,388.2 466.5,395.2 462.5,402.0 458.5,408.8 454.4,415.3 450.2,421.6 445.8,427.6 441.3,433.3 436.6,438.6 431.7,443.6 426.7,448.1 421.4,452.1 415.8,455.5 410.0,458.5 403.8,460.8 397.3,462.6 390.5,463.6 383.2,464.0Z"/>
</g>
<g font-family="Liberation Serif" fill="#000" stroke="#000" stroke-width="0.3">
<rect x="11.5" y="1.00" width="11.6" height="38.90" fill="#c00000" stroke="#c00000" stroke-width="1"/>
<rect x="11.5" y="84.20" width="11.6" height="7.20" fill="#00b050" stroke="#1a8a4a" stroke-width="1"/>
<rect x="11.5" y="135.30" width="11.6" height="5.70" fill="#ffc080" stroke="#c8c8d0" stroke-width="1"/>
<rect x="11.5" y="185.50" width="11.6" height="4.80" fill="#3c3cc8" stroke="#202080" stroke-width="1"/>
<rect x="11.5" y="234.40" width="11.6" height="6.90" fill="#ffa0a0" stroke="#d07070" stroke-width="1"/>
<rect x="11.5" y="287.40" width="11.6" height="2.90" fill="#e03030" stroke="#a02020" stroke-width="1"/>
<rect x="11.5" y="336.40" width="11.6" height="5.80" fill="#f070d8" stroke="#b050a0" stroke-width="1"/>
<rect x="11.5" y="385.60" width="11.6" height="19.20" fill="#c8b4dc" stroke="#8c8cac" stroke-width="1"/>
<rect x="11.5" y="447.80" width="11.6" height="24.40" fill="#9a6058" stroke="#9a6058" stroke-width="1"/>
<text x="25.7" y="25.95" font-size="14">Cereal (n = 658)</text>
<text x="25.7" y="92.85" font-size="14">Grain legume (n = 1280)</text>
<text x="25.7" y="143.15" font-size="14">Tuber (n = 24)</text>
<text x="25.7" y="192.85" font-size="14">Oil (n = 106)</text>
<text x="25.7" y="242.85" font-size="14">Legume fodder (n = 424)</text>
<text x="25.7" y="294.25" font-size="14">Grass fodder (n = 72)</text>
<text x="25.7" y="344.25" font-size="14">Fiber (n = 57)</text>
<text x="25.7" y="399.85" font-size="14">Mixture (n = 121)</text>
<text x="25.7" y="464.85" font-size="14">Multispecies (n = 456)</text>
<rect x="211.5" y="1.80" width="10.6" height="54.70" fill="#c00000" stroke="#c00000" stroke-width="1"/>
<rect x="211.5" y="98.70" width="10.6" height="10.10" fill="#f070d8" stroke="#b050a0" stroke-width="1"/>
<rect x="211.5" y="152.50" width="10.6" height="3.40" fill="#00b050" stroke="#1a8a4a" stroke-width="1"/>
<rect x="211.5" y="200.40" width="10.6" height="16.50" fill="#3c3cc8" stroke="#202080" stroke-width="1"/>
<rect x="211.5" y="260.50" width="10.6" height="19.50" fill="#a070c8" stroke="#8050a8" stroke-width="1"/>
<rect x="211.5" y="325.70" width="10.6" height="9.80" fill="#ffc080" stroke="#c8c8d0" stroke-width="1"/>
<text x="225.0" y="33.40" font-size="14">Cereal (n = 2888)</text>
<text x="225.0" y="109.25" font-size="14">Fiber (n = 23)</text>
<text x="225.0" y="159.35" font-size="14">Grain legume (n = 302)</text>
<text x="225.0" y="214.25" font-size="14">Oil (n = 42)</text>
<text x="225.0" y="276.65" font-size="14">Vegetable (n = 10)</text>
<text x="225.0" y="335.10" font-size="14">Tuber (n = 11)</text>
<rect x="371.6" y="5.60" width="11.1" height="8.50" fill="#c00000" stroke="#c00000" stroke-width="1"/>
<rect x="371.6" y="21.40" width="11.1" height="14.40" fill="#c00000" stroke="#c00000" stroke-width="1"/>
<rect x="371.6" y="44.70" width="11.1" height="15.70" fill="#c00000" stroke="#c00000" stroke-width="1"/>
<rect x="371.6" y="69.60" width="11.1" height="15.70" fill="#c00000" stroke="#c00000" stroke-width="1"/>
<rect x="371.6" y="92.90" width="11.1" height="7.90" fill="#00b050" stroke="#1a8a4a" stroke-width="1"/>
<rect x="371.6" y="110.00" width="11.1" height="15.20" fill="#00b050" stroke="#1a8a4a" stroke-width="1"/>
<rect x="371.6" y="133.00" width="11.1" height="15.50" fill="#00b050" stroke="#1a8a4a" stroke-width="1"/>
<rect x="371.6" y="157.70" width="11.1" height="11.70" fill="#00b050" stroke="#1a8a4a" stroke-width="1"/>
<rect x="371.6" y="177.60" width="11.1" height="8.20" fill="#00b050" stroke="#1a8a4a" stroke-width="1"/>
<rect x="371.6" y="195.90" width="11.1" height="15.40" fill="#00b050" stroke="#1a8a4a" stroke-width="1"/>
<rect x="371.6" y="221.60" width="11.1" height="6.60" fill="#3c3cc8" stroke="#202080" stroke-width="1"/>
<rect x="371.6" y="238.70" width="11.1" height="6.60" fill="#ffa0a0" stroke="#d07070" stroke-width="1"/>
<rect x="371.6" y="253.30" width="11.1" height="17.00" fill="#ffa0a0" stroke="#d07070" stroke-width="1"/>
<rect x="371.6" y="279.90" width="11.1" height="8.30" fill="#ffa0a0" stroke="#d07070" stroke-width="1"/>
<rect x="371.6" y="297.80" width="11.1" height="12.40" fill="#ffa0a0" stroke="#d07070" stroke-width="1"/>
<rect x="371.6" y="319.40" width="11.1" height="25.00" fill="#ffa0a0" stroke="#d07070" stroke-width="1"/>
<rect x="371.6" y="354.50" width="11.1" height="12.60" fill="#ffa0a0" stroke="#d07070" stroke-width="1"/>
<rect x="371.6" y="375.50" width="11.1" height="20.80" fill="#ffa0a0" stroke="#d07070" stroke-width="1"/>
<rect x="371.6" y="405.30" width="11.1" height="6.00" fill="#f070d8" stroke="#b050a0" stroke-width="1"/>
<rect x="371.6" y="421.70" width="11.1" height="20.30" fill="#c8b4dc" stroke="#8080a0" stroke-width="1"/>
<rect x="371.6" y="452.10" width="11.1" height="27.40" fill="#9a6058" stroke="#9a6058" stroke-width="1"/>
<text x="385.5" y="13.85" font-size="13.3">Barley (n = 13)</text>
<text x="385.5" y="34.05" font-size="13.3">Maize (n = 237)</text>
<text x="385.5" y="56.85" font-size="13.3">Sorghum (n = 20)</text>
<text x="385.5" y="80.80" font-size="13.3">Wheat (n = 58)</text>
<text x="385.5" y="101.65" font-size="13.3">Chickpea (n = 51)</text>
<text x="385.5" y="123.05" font-size="13.3">Cowpea (n = 108)</text>
<text x="385.5" y="145.85" font-size="13.3">Faba bean (n = 38)</text>
<text x="385.5" y="168.05" font-size="13.3">Lentil (n = 15)</text>
<text x="385.5" y="186.95" font-size="13.3">Pea (n = 35)</text>
<text x="385.5" y="207.85" font-size="13.3">Soybean (n = 984)</text>
<text x="385.5" y="228.75" font-size="13.3">Sunflower (n = 33)</text>
<text x="385.5" y="247.05" font-size="13.3">Alfalfa (n = 20)</text>
<text x="385.5" y="267.85" font-size="13.3">Lablab (n = 15)</text>
<text x="385.5" y="288.15" font-size="13.3">Pigeon pea (n = 12)</text>
<text x="385.5" y="308.25" font-size="13.3">Sesbania (n = 15)</text>
<text x="385.5" y="336.15" font-size="13.3">Sunhemp (n = 130)</text>
<text x="385.5" y="363.85" font-size="13.3">Velvet bean (n = 24)</text>
<text x="385.5" y="389.75" font-size="13.3">Vetch (n = 96)</text>
<text x="385.5" y="413.05" font-size="13.3">Cotton (n = 44)</text>
<text x="385.5" y="436.15" font-size="13.3">Mixture (n = 70)</text>
<text x="385.5" y="466.15" font-size="13.3">Multispecies (259)</text>
<rect x="571.0" y="5.80" width="11.0" height="74.60" fill="#c00000" stroke="#c00000" stroke-width="1"/>
<rect x="571.0" y="89.60" width="11.0" height="3.80" fill="#00b050" stroke="#1a8a4a" stroke-width="1"/>
<rect x="571.0" y="103.70" width="11.0" height="15.00" fill="#f070d8" stroke="#b050a0" stroke-width="1"/>
<rect x="571.0" y="129.00" width="11.0" height="82.80" fill="#c00000" stroke="#c00000" stroke-width="1"/>
<rect x="571.0" y="218.70" width="11.0" height="16.20" fill="#3c3cc8" stroke="#202080" stroke-width="1"/>
<rect x="571.0" y="244.60" width="11.0" height="36.50" fill="#c00000" stroke="#c00000" stroke-width="1"/>
<rect x="571.0" y="288.70" width="11.0" height="13.90" fill="#c00000" stroke="#c00000" stroke-width="1"/>
<rect x="571.0" y="310.50" width="11.0" height="11.70" fill="#c00000" stroke="#c00000" stroke-width="1"/>
<rect x="571.0" y="330.10" width="11.0" height="12.90" fill="#c00000" stroke="#c00000" stroke-width="1"/>
<text x="584.3" y="47.65" font-size="13.3">Wheat (n = 822)</text>
<text x="584.3" y="96.95" font-size="13.3">Soybean (n = 237)</text>
<text x="584.3" y="115.05" font-size="13.3">Cotton (n = 23)</text>
<text x="584.3" y="174.85" font-size="13.3">Maize (n = 1356)</text>
<text x="584.3" y="233.05" font-size="13.3">Canola (n = 42)</text>
<text x="584.3" y="267.85" font-size="13.3">Millet (n = 85)</text>
<text x="584.3" y="302.05" font-size="13.3">Sorghum (n = 155)</text>
<text x="584.3" y="321.05" font-size="13.3">Barley (n = 29)</text>
<text x="584.3" y="339.95" font-size="13.3">Rice (n = 67)</text>
</g>
<g font-family="Liberation Serif" fill="#000">
<text x="526.7" y="378.0" font-size="11.2" stroke="#000" stroke-width="0.12">Pre-crop effect</text>
<rect x="533" y="402.9" width="26.8" height="10" fill="#6aa0cd"/>
<rect x="533" y="420.3" width="26.3" height="16.3" fill="#6aa0cd"/>
<rect x="533" y="445" width="26.3" height="26.4" fill="#6aa0cd"/>
<text x="580.6" y="411.8" font-size="10" stroke="#000" stroke-width="0.15">20%</text>
<text x="580.9" y="437.7" font-size="10" stroke="#000" stroke-width="0.15">40%</text>
<text x="581.4" y="462.8" font-size="10" stroke="#000" stroke-width="0.15">60%</text>
</g>
<text x="-0.9" y="9.6" font-family="Liberation Sans" font-weight="bold" font-size="11">a</text>
<text x="355.4" y="11.7" font-family="Liberation Sans" font-weight="bold" font-size="11">b</text>
</svg>
</body></html>
